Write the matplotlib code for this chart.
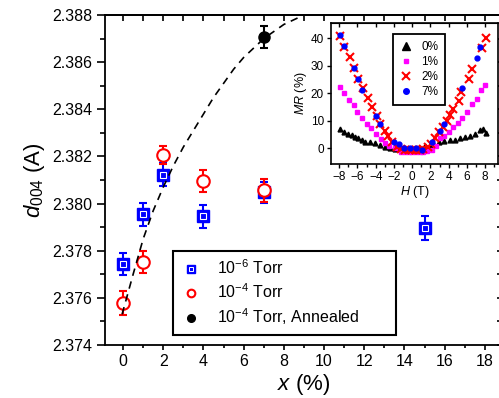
import numpy as np
import matplotlib
matplotlib.use('Agg')
import matplotlib.pyplot as plt
from matplotlib.lines import Line2D
from matplotlib.ticker import MultipleLocator, FormatStrFormatter

plt.rcParams['font.family'] = ['Liberation Sans', 'DejaVu Sans']
plt.rcParams['mathtext.fontset'] = 'custom'
plt.rcParams['mathtext.rm'] = 'Liberation Sans'
plt.rcParams['mathtext.it'] = 'Liberation Sans:italic'

# main panel: d004 vs x
x_6 = [0, 1, 2, 4, 7, 15]
d_6 = [2.37744, 2.37954, 2.38123, 2.37946, 2.38047, 2.37896]
err_6 = [0.00048, 0.0005, 0.00049, 0.0005, 0.00046, 0.0005]

x_4 = [0, 1, 2, 4, 7]
d_4 = [2.37577, 2.37753, 2.38205, 2.38095, 2.38056]
err_4 = [0.0005, 0.00046, 0.00039, 0.00046, 0.0005]

x_ann = [7]
d_ann = [2.38707]
err_ann = [0.00045]

# dashed guide curve
curve_x = [-0.05, 0.5, 1.0, 1.5, 2.0, 2.5, 3.0, 3.5, 4.0, 4.5, 5.0, 5.5, 6.0, 6.5,
           7.0, 7.5, 8.0, 8.5, 9.0, 9.6]
curve_y = [2.3753, 2.3770, 2.3785, 2.3797, 2.3807, 2.3816, 2.3824, 2.3831, 2.3838, 2.3845,
           2.3851, 2.3857, 2.3862, 2.3866, 2.3870, 2.3873, 2.3876, 2.3878, 2.3880, 2.3882]

# inset: MR vs H
H_0 = [-7.9, -7.45, -7.0, -6.6, -6.25, -5.9, -5.5, -5.15, -4.6, -4.05, -3.5, -2.96, -2.4, -1.9,
       -1.4, -0.9, -0.4, 0.0, 0.4, 0.9, 1.4, 1.9, 2.3, 2.9, 3.5, 4.16, 4.7, 5.26, 5.8, 6.36,
       6.9, 7.45, 7.8, 8.1]
MR_0 = [6.8, 5.9, 5.3, 4.8, 4.1, 3.5, 2.9, 2.3, 2.1, 1.7, 1.1, 0.5, -0.1, -0.2,
        -0.3, -0.3, -0.3, -0.3, -0.2, 0.2, 0.6, 1.1, 1.7, 2.3, 2.6, 2.9, 2.9, 3.5, 3.9, 4.5,
        5.3, 6.5, 6.8, 5.6]

H_1 = [-7.9, -7.45, -6.9, -6.4, -6.0, -5.45, -4.96, -4.5, -4.0, -3.4, -2.96, -2.5, -1.9,
       -1.24, -0.8, -0.4, 0.0, 0.4, 0.8, 1.2, 1.6, 2.15, 2.6, 3.07, 3.5, 4.0, 4.5, 5.07,
       5.5, 6.0, 6.5, 7.1, 7.5, 8.0]
MR_1 = [22.3, 20.1, 17.5, 15.6, 13.0, 11.0, 8.7, 7.2, 5.2, 3.3, 1.7, 0.85, 0.0,
        -1.3, -1.3, -1.3, -1.3, -1.3, -1.3, -1.3, -1.2, -0.7, 0.8, 3.5, 4.5, 5.7, 7.5, 9.3,
        11.0, 13.0, 15.9, 17.8, 21.1, 22.9]

H_2 = [-7.9, -7.45, -6.8, -6.4, -5.9, -5.4, -4.85, -4.4, -3.9, -3.5, -2.96, -2.7, -2.2, -1.7,
       -1.2, -0.8, -0.4, 0.0, 0.4, 0.8, 1.2, 1.7, 2.1, 2.5, 2.9, 3.4, 3.8, 4.16, 4.5, 5.1,
       5.4, 6.2, 6.5, 7.6, 8.1]
MR_2 = [40.8, 36.8, 33.0, 29.2, 25.3, 21.7, 18.3, 14.9, 11.8, 8.7, 6.2, 4.4, 2.3, 0.5,
        -0.5, -0.8, -0.8, -0.8, -0.8, -0.6, -0.3, 0.3, 1.5, 3.5, 5.7, 7.8, 9.8, 12.0, 14.2, 17.1,
        20.5, 25.0, 28.6, 36.5, 40.1]

H_7 = [-7.9, -7.45, -6.4, -5.9, -5.45, -4.0, -3.5, -2.05, -1.5, -0.95, -0.2, 0.4, 1.06,
       2.15, 3.07, 3.43, 5.45, 7.1, 7.45]
MR_7 = [41.1, 37.1, 29.2, 25.3, 21.1, 11.8, 8.7, 2.1, 1.5, 0.0, 0.0, 0.0, -0.7,
        2.1, 6.2, 8.6, 21.7, 32.8, 36.8]

fig = plt.figure(figsize=(4.99, 3.98), dpi=100)
ax = fig.add_axes([0.2104, 0.1332, 0.7976, 0.8291])

ax.errorbar(x_6, d_6, yerr=err_6, fmt='none', ecolor='blue', elinewidth=1.5,
            capsize=3, capthick=1.5, zorder=3)
ax.plot(x_6, d_6, 's', ms=8, mfc='blue', mec='blue', zorder=4)
ax.plot(x_6, d_6, 's', ms=4.5, mfc='none', mec='white', mew=0.8, zorder=4)

ax.errorbar(x_4, d_4, yerr=err_4, fmt='o', ms=9, mfc='white', mec='red', mew=1.5,
            ecolor='red', elinewidth=1.5, capsize=3, capthick=1.5, zorder=5)
ax.errorbar(x_ann, d_ann, yerr=err_ann, fmt='o', ms=8, mfc='black', mec='black',
            ecolor='black', elinewidth=1.5, capsize=3, capthick=1.5, zorder=5)

ax.plot(curve_x, curve_y, color='black', lw=1.2, ls=(0, (4.5, 3.5)), zorder=6)

ax.set_xlim(-0.9, 18.9)
ax.set_ylim(2.374, 2.388)
ax.xaxis.set_major_locator(MultipleLocator(2))
ax.xaxis.set_minor_locator(MultipleLocator(1))
ax.yaxis.set_major_locator(MultipleLocator(0.002))
ax.yaxis.set_minor_locator(MultipleLocator(0.001))
ax.yaxis.set_major_formatter(FormatStrFormatter('%.3f'))
ax.tick_params(axis='both', which='both', direction='out', width=1.2, labelsize=11.5,
               top=False, right=False)
ax.tick_params(axis='y', which='major', length=6, pad=3)
ax.tick_params(axis='y', which='minor', length=3.6)
ax.tick_params(axis='x', which='major', length=3.6, pad=3)
ax.tick_params(axis='x', which='minor', length=2.5)
for s in ax.spines.values():
    s.set_linewidth(1.3)

top = ax.secondary_xaxis('top')
top.xaxis.set_major_locator(MultipleLocator(1))
top.tick_params(direction='in', length=4, width=1.2, labeltop=False)
top.spines['top'].set_linewidth(1.3)
right = ax.secondary_yaxis('right')
right.yaxis.set_major_locator(MultipleLocator(0.001))
right.tick_params(direction='in', length=4, width=1.2, labelright=False)

ax.set_xlabel('$x$ (%)', fontsize=16, labelpad=2)
ax.set_ylabel('$d_{004}$ (A)', fontsize=16, labelpad=4)

h_blue = (Line2D([], [], ls='none', marker='s', ms=6, mfc='blue', mec='blue'),
          Line2D([], [], ls='none', marker='s', ms=3, mfc='none', mec='white', mew=0.7))
h_red = Line2D([], [], ls='none', marker='o', ms=5.5, mfc='white', mec='red', mew=1.5)
h_blk = Line2D([], [], ls='none', marker='o', ms=5.5, mfc='black', mec='black')
leg = ax.legend([h_blue, h_red, h_blk],
                ['10$^{-6}$ Torr', '10$^{-4}$ Torr', '10$^{-4}$ Torr, Annealed'],
                loc='lower left', bbox_to_anchor=(0.172, 0.03, 0.56, 0.267), mode='expand',
                fontsize=11.5, frameon=True, fancybox=False, framealpha=1, edgecolor='black',
                handlelength=1.2, handletextpad=1.0, borderpad=0.5, labelspacing=0.32,
                borderaxespad=0)
leg.get_frame().set_linewidth(1.5)
leg.set_zorder(7)

# inset
ins = fig.add_axes([0.6633, 0.5879, 0.3347, 0.3543])
ins.set_facecolor('white')
ins.plot(H_0, MR_0, '^', color='black', ms=3.5, ls='none')
ins.plot(H_1, MR_1, 's', color='magenta', ms=3, ls='none')
ins.plot(H_2, MR_2, 'x', color='red', ms=5.5, mew=1.5, ls='none')
ins.plot(H_7, MR_7, 'o', color='blue', ms=3.5, ls='none')
ins.set_xlim(-8.9, 9.4)
ins.set_ylim(-5.8, 45.5)
ins.xaxis.set_major_locator(MultipleLocator(2))
ins.xaxis.set_minor_locator(MultipleLocator(1))
ins.yaxis.set_major_locator(MultipleLocator(10))
ins.tick_params(axis='both', which='both', direction='out', width=1.0, labelsize=8.5,
                top=False, right=False, pad=2)
ins.tick_params(which='major', length=3)
ins.tick_params(which='minor', length=2)
for s in ins.spines.values():
    s.set_linewidth(1.2)
itop = ins.secondary_xaxis('top')
itop.xaxis.set_major_locator(MultipleLocator(2))
itop.tick_params(direction='in', length=3, width=1.0, labeltop=False)
ins.set_xlabel('$H$ (T)', fontsize=9, labelpad=1)
ins.set_ylabel('$MR$ (%)', fontsize=9, labelpad=1)

ih = [Line2D([], [], ls='none', marker='^', ms=5.5, color='black'),
      Line2D([], [], ls='none', marker='s', ms=3.5, color='magenta'),
      Line2D([], [], ls='none', marker='x', ms=5.5, mew=1.5, color='red'),
      Line2D([], [], ls='none', marker='o', ms=4, color='blue')]
ileg = ins.legend(ih, ['0%', '1%', '2%', '7%'], loc='upper left',
                  bbox_to_anchor=(0.371, 0.922), fontsize=8.5, frameon=True,
                  fancybox=False, framealpha=1, edgecolor='black', handlelength=1.0,
                  handletextpad=0.8, borderpad=0.6, labelspacing=0.25, borderaxespad=0)
ileg.get_frame().set_linewidth(1.3)

fig.savefig('out.png', dpi=100)
